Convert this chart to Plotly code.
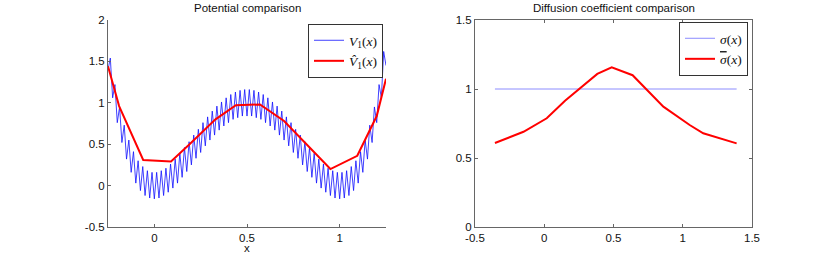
import numpy as np
import plotly.graph_objects as go

# ---- data ----
# V1(x): fast-oscillating potential, alternating trough/peak values on a grid
x_v1 = np.linspace(-0.25, 1.25, 121)
v1_vals = [
    1.40, 1.54, 1.06, 1.22, 0.76, 0.95, 0.52, 0.73, 0.32, 0.55,
    0.16, 0.41, 0.03, 0.30, -0.06, 0.23, -0.12, 0.18, -0.15, 0.16,
    -0.16, 0.16, -0.15, 0.18, -0.12, 0.21, -0.08, 0.26, -0.03, 0.32,
    0.03, 0.39, 0.10, 0.46, 0.17, 0.53, 0.25, 0.61, 0.33, 0.68,
    0.40, 0.76, 0.48, 0.83, 0.55, 0.90, 0.61, 0.96, 0.67, 1.01,
    0.72, 1.06, 0.76, 1.10, 0.80, 1.13, 0.82, 1.15, 0.84, 1.16,
    0.84,
    1.16, 0.84, 1.15, 0.82, 1.13, 0.80, 1.10, 0.76, 1.06, 0.72,
    1.01, 0.67, 0.96, 0.61, 0.90, 0.55, 0.83, 0.48, 0.76, 0.40,
    0.68, 0.33, 0.61, 0.25, 0.53, 0.17, 0.46, 0.10, 0.39, 0.03,
    0.32, -0.03, 0.26, -0.08, 0.21, -0.12, 0.18, -0.15, 0.16, -0.16,
    0.16, -0.15, 0.18, -0.12, 0.23, -0.06, 0.30, 0.03, 0.41, 0.16,
    0.55, 0.32, 0.73, 0.52, 0.95, 0.76, 1.22, 1.06, 1.62, 1.45,
]

# estimated potential (red, left)
x_vhat = [-0.25, -0.19, -0.06, 0.09, 0.19, 0.33, 0.44, 0.57, 0.70, 0.95, 1.095, 1.20, 1.25]
vhat_vals = [1.44, 0.96, 0.31, 0.29, 0.50, 0.80, 0.97, 0.98, 0.78, 0.20, 0.36, 0.84, 1.29]

# diffusion coefficients (right)
x_sig = [-0.356, -0.15, 0.018, 0.15, 0.383, 0.487, 0.638, 0.86, 1.05, 1.148, 1.389]
sigma_vals = [1.0] * len(x_sig)
sigbar_vals = [0.609, 0.69, 0.788, 0.915, 1.109, 1.157, 1.10, 0.872, 0.739, 0.679, 0.606]

left_yticks = [-0.5, 0, 0.5, 1, 1.5, 2]
left_yticktext = ["-0.5", "0", "0.5", "1", "1.5", "2"]
left_xticks = [0, 0.5, 1]
left_xticktext = ["0", "0.5", "1"]
right_xticks = [-0.5, 0, 0.5, 1, 1.5]
right_xticktext = ["-0.5", "0", "0.5", "1", "1.5"]
right_yticks = [0, 0.5, 1, 1.5]
right_yticktext = ["0", "0.5", "1", "1.5"]

W, H = 830, 256
SANS = "Liberation Sans, Arial, sans-serif"
TICKFONT = dict(family=SANS, size=11.5, color="#111")
LEGFONT = dict(family="Liberation Serif, Times New Roman, serif", size=13.5, color="#111")
AXCOL = "#666666"

fig = go.Figure()
fig.add_trace(go.Scatter(x=x_v1, y=v1_vals, mode="lines",
                         line=dict(color="#1010ff", width=0.8),
                         name="<i>V</i><sub>1</sub>(<i>x</i>)",
                         xaxis="x", yaxis="y", legend="legend"))
fig.add_trace(go.Scatter(x=x_vhat, y=vhat_vals, mode="lines",
                         line=dict(color="#ff0000", width=2),
                         name="<i>V\u0302</i><sub>1</sub>(<i>x</i>)",
                         xaxis="x", yaxis="y", legend="legend"))
fig.add_trace(go.Scatter(x=x_sig, y=sigma_vals, mode="lines",
                         line=dict(color="#8c8cff", width=1),
                         name="<i>σ</i>(<i>x</i>)",
                         xaxis="x2", yaxis="y2", legend="legend2"))
fig.add_trace(go.Scatter(x=x_sig, y=sigbar_vals, mode="lines",
                         line=dict(color="#ff0000", width=2),
                         name="<span style=\"text-decoration:overline\"><i>σ</i></span>(<i>x</i>)",
                         xaxis="x2", yaxis="y2", legend="legend2"))

ydom = [29 / H, 236 / H]
common = dict(showgrid=False, zeroline=False, showline=True, linecolor=AXCOL,
              linewidth=1, ticks="inside", ticklen=3, tickcolor=AXCOL,
              tickfont=TICKFONT, tickmode="array", automargin=False)

fig.update_layout(
    width=W, height=H,
    margin=dict(l=0, r=0, t=0, b=0, autoexpand=False),
    paper_bgcolor="white", plot_bgcolor="white",
    showlegend=True,
    xaxis=dict(domain=[108 / W, 386 / W], range=[-0.25, 1.25],
               tickvals=left_xticks, ticktext=left_xticktext, anchor="y", **common),
    yaxis=dict(domain=ydom, range=[-0.5, 2], tickvals=left_yticks,
               ticktext=left_yticktext, anchor="x", **common),
    xaxis2=dict(domain=[475 / W, 752 / W], range=[-0.5, 1.5],
                tickvals=right_xticks, ticktext=right_xticktext, anchor="y2",
                mirror="ticks", **common),
    yaxis2=dict(domain=ydom, range=[0, 1.5], tickvals=right_yticks,
                ticktext=right_yticktext, anchor="x2", mirror="ticks", **common),
    legend=dict(x=383 / W, y=1 - 24 / H, xanchor="right", yanchor="top",
                bgcolor="white", bordercolor="#333", borderwidth=1,
                font=LEGFONT, tracegroupgap=0, itemwidth=30),
    legend2=dict(x=748 / W, y=1 - 22 / H, xanchor="right", yanchor="top",
                 bgcolor="white", bordercolor="#333", borderwidth=1,
                 font=LEGFONT, tracegroupgap=0, itemwidth=30),
    annotations=[
        dict(text="Potential comparison", x=247 / W, y=1 - 7.5 / H, xref="paper", yref="paper",
             showarrow=False, xanchor="center", yanchor="middle",
             font=dict(family=SANS, size=11.5, color="#111")),
        dict(text="Diffusion coefficient comparison", x=613.5 / W, y=1 - 7.5 / H,
             xref="paper", yref="paper", showarrow=False, xanchor="center", yanchor="middle",
             font=dict(family=SANS, size=11.5, color="#111")),
        dict(text="x", x=247 / W, y=1 - 248 / H, xref="paper", yref="paper",
             showarrow=False, xanchor="center", yanchor="middle",
             font=dict(family=SANS, size=11.5, color="#111")),
    ],
)

fig.write_html("out.html", config={"displayModeBar": False, "staticPlot": True},
               post_script="document.body.style.margin='0';document.body.style.overflow='hidden';")
